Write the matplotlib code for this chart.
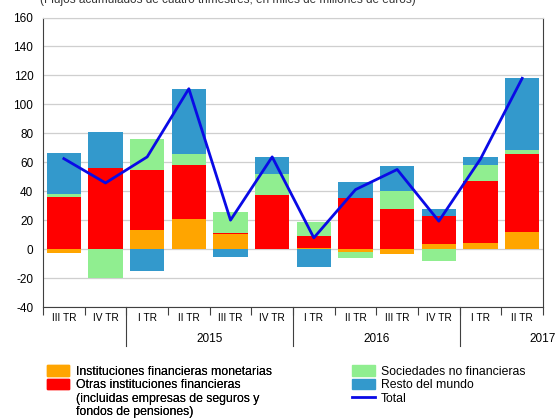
import matplotlib
matplotlib.use('Agg')
import matplotlib.pyplot as plt
import numpy as np
from matplotlib.patches import Patch
from matplotlib.lines import Line2D

plt.rcParams['font.family'] = ['Liberation Sans', 'DejaVu Sans']
plt.rcParams['axes.unicode_minus'] = False

# quarters from III TR 2014 to II TR 2017
quarters = ['III TR', 'IV TR', 'I TR', 'II TR', 'III TR', 'IV TR',
            'I TR', 'II TR', 'III TR', 'IV TR', 'I TR', 'II TR']
years = ['2015', '2016', '2017']

ifm = [-3, 0, 13, 20.7, 10.3, 0, 1, -2.3, -3.4, 3.2, 3.9, 12]
otras = [36, 56, 41.4, 37.7, 1, 37.5, 8, 35, 28, 19.8, 43.2, 54]
snf = [2.3, -20, 21.4, 7.6, 14.3, 14.3, 10, -4, 12, -8.5, 11, 2.3]
resto = [28, 24.6, -15, 44.4, -5.3, 11.7, -12.4, 11.3, 17.5, 4.6, 5.3, 49.9]
total = [62.5, 45.7, 63.7, 110.8, 20, 63.7, 7.8, 41.1, 55, 19.3, 62.3, 118]

series = [(ifm, '#FFA500'), (otras, '#FF0000'), (snf, '#90EE90'),
          (resto, '#3399CC')]
labels = ['Instituciones financieras monetarias',
          'Otras instituciones financieras',
          '(incluidas empresas de seguros y', 'fondos de pensiones)',
          'Sociedades no financieras', 'Resto del mundo', 'Total']
line_color = '#0A0AE6'

fig = plt.figure(figsize=(5.58, 4.19), dpi=100)
ax = fig.add_axes([0.0771, 0.2673, 0.896, 0.6909])

x = np.arange(len(quarters))
pos_base = np.zeros(len(x))
neg_base = np.zeros(len(x))
for vals, color in series:
    v = np.array(vals, dtype=float)
    bottom = np.where(v >= 0, pos_base, neg_base)
    ax.bar(x, v, width=0.83, bottom=bottom, color=color, zorder=2)
    pos_base += np.where(v >= 0, v, 0)
    neg_base += np.where(v < 0, v, 0)

ax.plot(x, total, color=line_color, linewidth=2.0, zorder=3)

ax.set_xlim(-0.5, len(x) - 0.5)
ax.set_ylim(-40, 160)
ax.set_yticks(np.arange(-40, 161, 20))
ax.grid(axis='y', color='#CFCFCF', linewidth=0.9, zorder=0)
ax.tick_params(axis='y', length=0, pad=7, labelsize=8.5)

ax.set_xticks(x)
ax.set_xticklabels(quarters, fontsize=7.3)
ax.tick_params(axis='x', which='major', length=0, pad=4)
ax.set_xticks(np.arange(-0.5, len(x), 1), minor=True)
ax.tick_params(axis='x', which='minor', length=6, color='#404040', width=0.8)

for side in ['left', 'right', 'bottom']:
    ax.spines[side].set_color('#404040')
    ax.spines[side].set_linewidth(0.8)
ax.spines['top'].set_color('#CFCFCF')

# long ticks separating years
trans = ax.get_xaxis_transform()
for b in [1.5, 5.5, 9.5]:
    ax.plot([b, b], [0, -0.135], transform=trans, color='#404040',
            linewidth=0.8, clip_on=False)
for xp, yr in zip([3.5, 7.5, 11.5], years):
    ax.text(xp, -0.11, yr, transform=trans, ha='center', va='center',
            fontsize=8.5)

# subtitle, cut off at the top edge as in the source image
fig.text(0.072, 1.0, '(Flujos acumulados de cuatro trimestres, en miles de millones de euros)',
         ha='left', va='center', fontsize=8.5, color='#333333')

blank = Patch(color='none')
h1 = [Patch(color=series[0][1]), Patch(color=series[1][1]), blank, blank]
h2 = [Patch(color=series[2][1]), Patch(color=series[3][1]),
      Line2D([], [], color=line_color, linewidth=2.0)]
leg_kw = dict(loc='upper left', frameon=False, fontsize=8.8,
              handlelength=1.85, handleheight=0.9, labelspacing=0.1,
              borderpad=0, borderaxespad=0, handletextpad=0.5)
leg1 = fig.legend(h1, labels[:4], **leg_kw)
leg1.set_bbox_to_anchor((0.084, 0.128), transform=fig.transFigure)
leg2 = fig.legend(h2, labels[4:], **leg_kw)
leg2.set_bbox_to_anchor((0.631, 0.128), transform=fig.transFigure)
fig.add_artist(leg1)

fig.savefig('out.png', dpi=100)
